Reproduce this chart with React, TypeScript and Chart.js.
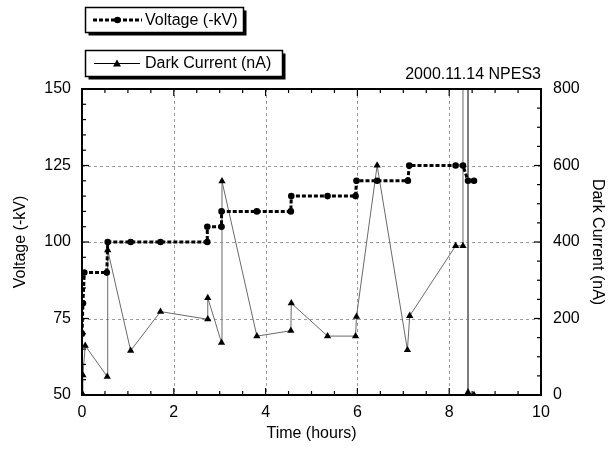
import React, { useEffect, useRef } from "react";
import { Chart, registerables } from "chart.js";
Chart.register(...registerables);

const voltageTime = [0.0, 0.02, 0.05, 0.54, 0.56, 1.06, 1.71, 2.73, 2.73, 3.04, 3.04, 3.81, 4.55, 4.56, 5.35, 5.96, 5.98, 6.43, 7.1, 7.13, 8.14, 8.3, 8.41, 8.54];
const voltageKV = [70, 80, 90, 90, 100, 100, 100, 100, 105, 105, 110, 110, 110, 115, 115, 115, 120, 120, 120, 125, 125, 125, 120, 120];

const currentTime = [0.0, 0.02, 0.07, 0.55, 0.56, 1.06, 1.71, 2.74, 2.74, 3.04, 3.05, 3.81, 4.55, 4.56, 5.35, 5.96, 5.98, 6.43, 7.09, 7.14, 8.14, 8.3, 8.3, 8.41, 8.41, 8.54];
const currentNA = [5, 52, 129, 48, 379, 116, 218, 198, 254, 137, 559, 154, 168, 240, 154, 154, 205, 600, 118, 207, 390, 390, 3000, 3000, 7, 0];

const xTicks = [0, 2, 4, 6, 8, 10];
const yTicks = [50, 75, 100, 125, 150];
const y1Ticks = [0, 200, 400, 600, 800];

const titleText = "2000.11.14 NPES3";
const legendVoltage = "Voltage (-kV)";
const legendCurrent = "Dark Current (nA)";

const FONT = "'Liberation Sans', Arial, Helvetica, sans-serif";

const decorPlugin = {
  id: "decor",
  beforeDatasetsDraw(chart: any) {
    const { ctx, chartArea: a, scales } = chart;
    ctx.save();
    ctx.strokeStyle = "#9a9a9a";
    ctx.lineWidth = 1;
    ctx.setLineDash([3, 3]);
    xTicks.slice(1, -1).forEach((v) => {
      const px = Math.round(scales.x.getPixelForValue(v)) + 0.5;
      ctx.beginPath();
      ctx.moveTo(px, a.top);
      ctx.lineTo(px, a.bottom);
      ctx.stroke();
    });
    yTicks.slice(1, -1).forEach((v) => {
      const py = Math.round(scales.y.getPixelForValue(v)) + 0.5;
      ctx.beginPath();
      ctx.moveTo(a.left, py);
      ctx.lineTo(a.right, py);
      ctx.stroke();
    });
    ctx.restore();
  },
  afterDatasetsDraw(chart: any) {
    const { ctx, chartArea: a, scales } = chart;
    ctx.save();
    ctx.strokeStyle = "#000";
    ctx.lineWidth = 1.2;
    for (let v = 0; v <= 10.001; v += 0.5) {
      const px = scales.x.getPixelForValue(v);
      const major = Math.abs(v - Math.round(v / 2) * 2) < 0.001;
      const len = major ? 7 : 4;
      ctx.beginPath();
      ctx.moveTo(px, a.bottom);
      ctx.lineTo(px, a.bottom - len);
      ctx.moveTo(px, a.top);
      ctx.lineTo(px, a.top + len);
      ctx.stroke();
    }
    for (let v = 50; v <= 150.001; v += 5) {
      const py = scales.y.getPixelForValue(v);
      const major = v % 25 === 0;
      const len = major ? 7 : 4;
      ctx.beginPath();
      ctx.moveTo(a.left, py);
      ctx.lineTo(a.left + len, py);
      ctx.stroke();
    }
    for (let v = 0; v <= 800.001; v += 50) {
      const py = scales.y1.getPixelForValue(v);
      const major = v % 200 === 0;
      const len = major ? 7 : 4;
      ctx.beginPath();
      ctx.moveTo(a.right, py);
      ctx.lineTo(a.right - len, py);
      ctx.stroke();
    }
    ctx.lineWidth = 2;
    ctx.strokeRect(a.left, a.top, a.right - a.left, a.bottom - a.top);
    ctx.restore();
  },
  afterDraw(chart: any) {
    const { ctx, chartArea: a } = chart;
    ctx.save();
    ctx.fillStyle = "#000";
    ctx.font = `16px ${FONT}`;
    ctx.textAlign = "right";
    ctx.textBaseline = "alphabetic";
    ctx.fillText(titleText, a.right, 79);

    const box = (x: number, y: number, w: number, h: number) => {
      ctx.fillStyle = "#000";
      ctx.fillRect(x + 3, y + 3, w, h);
      ctx.fillStyle = "#fff";
      ctx.fillRect(x, y, w, h);
      ctx.strokeStyle = "#000";
      ctx.lineWidth = 1.5;
      ctx.strokeRect(x, y, w, h);
    };
    box(85.5, 7.5, 158, 25);
    ctx.strokeStyle = "#000";
    ctx.lineWidth = 3;
    ctx.setLineDash([4, 2]);
    ctx.beginPath();
    ctx.moveTo(93, 20);
    ctx.lineTo(142, 20);
    ctx.stroke();
    ctx.setLineDash([]);
    ctx.fillStyle = "#000";
    ctx.beginPath();
    ctx.arc(117.5, 20, 3.3, 0, Math.PI * 2);
    ctx.fill();
    ctx.font = `16px ${FONT}`;
    ctx.textAlign = "left";
    ctx.textBaseline = "middle";
    ctx.fillText(legendVoltage, 145, 20.5);

    box(85.5, 50.5, 197, 26);
    ctx.strokeStyle = "#000";
    ctx.lineWidth = 1;
    ctx.beginPath();
    ctx.moveTo(94, 63.5);
    ctx.lineTo(140, 63.5);
    ctx.stroke();
    ctx.fillStyle = "#000";
    ctx.beginPath();
    ctx.moveTo(117, 59.5);
    ctx.lineTo(121, 66.5);
    ctx.lineTo(113, 66.5);
    ctx.closePath();
    ctx.fill();
    ctx.fillText(legendCurrent, 145, 63.5);
    ctx.restore();
  },
};

export default function App() {
  const ref = useRef<HTMLCanvasElement | null>(null);
  useEffect(() => {
    document.body.style.margin = "0";
    const canvas = ref.current!;
    const chart = new Chart(canvas, {
      type: "line",
      data: {
        datasets: [
          {
            label: legendCurrent,
            data: currentTime.map((t, i) => ({ x: t, y: currentNA[i] })),
            yAxisID: "y1",
            borderColor: "#6a6a6a",
            borderWidth: 1,
            pointStyle: "triangle",
            pointRadius: 4.2,
            pointBackgroundColor: "#000",
            pointBorderColor: "#000",
            pointBorderWidth: 0,
            tension: 0,
            order: 2,
          },
          {
            label: legendVoltage,
            data: voltageTime.map((t, i) => ({ x: t, y: voltageKV[i] })),
            yAxisID: "y",
            borderColor: "#000",
            borderWidth: 3,
            borderDash: [4, 2],
            pointStyle: "circle",
            pointRadius: 3.3,
            pointBackgroundColor: "#000",
            pointBorderColor: "#000",
            pointBorderWidth: 0,
            tension: 0,
            order: 1,
          },
        ],
      },
      options: {
        animation: false,
        responsive: false,
        events: [],
        layout: { padding: { top: 89, left: 0, right: 0, bottom: 0 } },
        plugins: { legend: { display: false }, tooltip: { enabled: false }, title: { display: false } },
        scales: {
          x: {
            type: "linear",
            position: "bottom",
            min: 0,
            max: 10,
            afterBuildTicks: (s: any) => { s.ticks = xTicks.map((v) => ({ value: v })); },
            afterFit: (s: any) => { s.height = 56; },
            grid: { display: false, drawTicks: false },
            border: { display: false },
            ticks: { color: "#000", font: { family: FONT, size: 16 }, padding: 8, maxRotation: 0 },
            title: { display: true, text: "Time (hours)", color: "#000", font: { family: FONT, size: 16 }, padding: { top: 2, bottom: 8 } },
          },
          y: {
            type: "linear",
            position: "left",
            min: 50,
            max: 150,
            afterBuildTicks: (s: any) => { s.ticks = yTicks.map((v) => ({ value: v })); },
            afterFit: (s: any) => { s.width = 82; },
            grid: { display: false, drawTicks: false },
            border: { display: false },
            ticks: { color: "#000", font: { family: FONT, size: 16 }, padding: 11 },
            title: { display: true, text: "Voltage (-kV)", color: "#000", font: { family: FONT, size: 16 }, padding: { top: 11, bottom: 0 } },
          },
          y1: {
            type: "linear",
            position: "right",
            min: 0,
            max: 800,
            afterBuildTicks: (s: any) => { s.ticks = y1Ticks.map((v) => ({ value: v })); },
            afterFit: (s: any) => { s.width = 72; },
            grid: { display: false, drawTicks: false },
            border: { display: false },
            ticks: { color: "#000", font: { family: FONT, size: 16 }, padding: 12 },
            title: { display: true, text: "Dark Current (nA)", color: "#000", font: { family: FONT, size: 16 }, padding: { top: 6, bottom: 0 } },
          },
        },
      },
      plugins: [decorPlugin],
    } as any);
    return () => chart.destroy();
  }, []);
  return (
    <div style={{ position: "relative", width: 613, height: 451, background: "#fff" }}>
      <canvas ref={ref} width={613} height={451} />
    </div>
  );
}
